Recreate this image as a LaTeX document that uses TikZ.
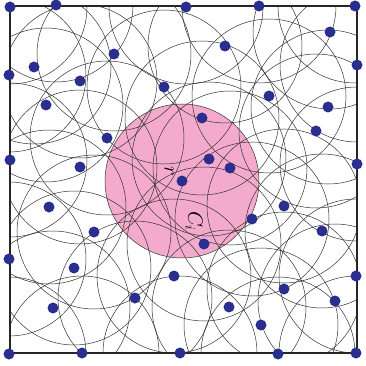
\documentclass[tikz,border=0pt]{standalone}
\usetikzlibrary{positioning}

\definecolor{coverpink}{RGB}{244,170,204}
\definecolor{sensorblue}{RGB}{42,46,143}

\begin{document}
\begin{tikzpicture}[
    x=1pt, y=-1pt,
    sensor/.style={circle, fill=sensorblue, inner sep=0pt, minimum size=11pt},
    sensrange/.style={draw=black!80, line width=0.5pt},
    cover/.style={fill=coverpink},
    frame/.style={draw=black!85, line width=1.3pt},
    lbl/.style={inner sep=0pt, font=\huge, rotate=-90}
]
\useasboundingbox (0,0) rectangle (365,366);
\coordinate (fa) at (10,6);
\coordinate (fb) at (357,353);
% sensor positions
\foreach \px/\py [count=\i] in {10/7, 56/5, 186/7, 259/6, 355/6, 357/65, 357/164, 356/276,
    356/353, 278/354, 180/353, 82/353, 9/354, 9/259, 10/160, 9/75,
    114/54, 34/67, 80/81, 164/87, 46/105, 107/138, 80/167, 225/46, 330/32, 269/96,
    328/107, 202/118, 316/131, 209/159, 230/168, 182/181, 252/219, 204/244, 49/207, 94/232,
    74/268, 135/298, 53/308, 174/276, 284/206, 322/231, 284/289, 335/301, 229/307, 261/325}
    \coordinate (p\i) at (\px,\py);

% covered area of the middle sensor
\fill[cover] (p32) circle[radius=77pt];

% sensing ranges
\begin{scope}
\clip (fa) rectangle (fb);
\foreach \i in {1,...,46}
    \draw[sensrange] (p\i) circle[radius=77pt];
\end{scope}

\draw[frame] (fa) rectangle (fb);

\foreach \i in {1,...,46}
    \node[sensor] (s\i) at (p\i) {};

\node[lbl] (rad) at (169,171) {$r$};
\node[lbl] (ci) at (194,221) {$C_i$};
\end{tikzpicture}
\end{document}
